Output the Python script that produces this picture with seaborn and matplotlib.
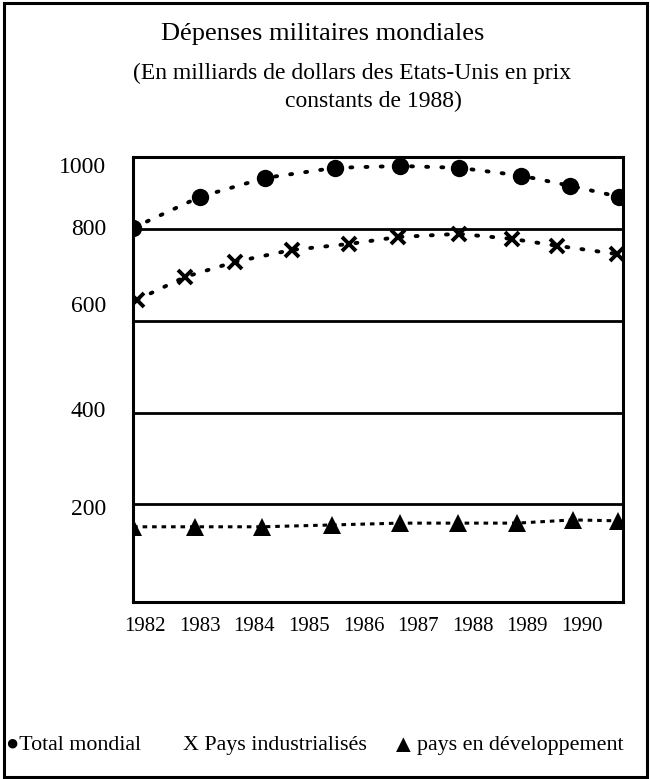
import matplotlib
matplotlib.use("Agg")
import matplotlib.pyplot as plt
import seaborn as sns
import pandas as pd
from matplotlib.patches import Rectangle

# ---- data ----
total_x = [1981.78, 1983.01, 1984.20, 1985.48, 1986.67, 1987.75, 1988.89, 1989.78, 1990.68]
total_y = [803, 871, 912, 934, 938, 934, 917, 895, 871]

indus_x = [1981.85, 1982.73, 1983.65, 1984.69, 1985.74, 1986.63, 1987.75, 1988.72, 1989.55, 1990.64]
indus_y = [646, 696, 729, 755, 768, 783, 790, 779, 764, 746]

dev_x = [1981.78, 1982.92, 1984.14, 1985.42, 1986.67, 1987.73, 1988.81, 1989.84, 1990.66]
dev_y = [151, 151, 151, 155, 159, 159, 159, 166, 164]

years = [1982, 1983, 1984, 1985, 1986, 1987, 1988, 1989, 1990]
year_labels = [str(y) for y in years]
grid_values = [200, 400, 600, 800]
# where the printed value labels sit on the value scale (as drawn in the original)
y_label_pos = [194, 408, 637, 805, 940]
y_labels = ["200", "400", "600", "800", "1000"]

title = "Dépenses militaires mondiales"
subtitle1 = "(En milliards de dollars des Etats-Unis en prix"
subtitle2 = "constants de 1988)"
legend_labels = ["●Total mondial", "X Pays industrialisés", "▲", "pays en développement"]

sns.set_theme(style="white")
plt.rcParams["font.family"] = ["Liberation Serif", "DejaVu Sans"]

fig = plt.figure(figsize=(6.5, 7.79), dpi=100)
ax = fig.add_axes([0.204, 0.2276, 0.754, 0.5705])

df_t = pd.DataFrame({"x": total_x, "y": total_y})
df_i = pd.DataFrame({"x": indus_x, "y": indus_y})
df_d = pd.DataFrame({"x": dev_x, "y": dev_y})

for v in grid_values:
    ax.axhline(v, color="black", lw=2.0, zorder=1)

sns.lineplot(data=df_t, x="x", y="y", ax=ax, color="black", lw=2.8,
             linestyle=(0, (0.5, 3.4)), marker="o", markersize=12.5,
             markeredgecolor="black", markerfacecolor="black", mew=0,
             dash_capstyle="round", zorder=3)
sns.lineplot(data=df_i, x="x", y="y", ax=ax, color="black", lw=2.8,
             linestyle=(0, (0.5, 3.4)), marker="x", markersize=9.5,
             markeredgecolor="black", mew=2.8,
             dash_capstyle="round", zorder=3)
sns.lineplot(data=df_d, x="x", y="y", ax=ax, color="black", lw=2.2,
             linestyle=(0, (1.5, 1.6)), marker="^", markersize=12.5,
             markeredgecolor="black", markerfacecolor="black", mew=0,
             zorder=3)

ax.set_xlim(1981.77, 1990.75)
ax.set_ylim(-12.4, 957)
ax.set_xlabel("")
ax.set_ylabel("")

ax.set_xticks(years)
ax.set_xticklabels(year_labels, fontsize=15)
ax.set_yticks(y_label_pos)
ax.set_yticklabels(y_labels, fontsize=17)
ax.tick_params(axis="x", length=0, pad=11, colors="black")
ax.tick_params(axis="y", length=0, pad=19, colors="black")

for s in ax.spines.values():
    s.set_color("black")
    s.set_linewidth(2.2)
    s.set_visible(True)

# titles
fig.text(0.496, 0.956, title, ha="center", va="center", fontsize=19, color="black")
fig.text(0.542, 0.906, subtitle1, ha="center", va="center", fontsize=17, color="black")
fig.text(0.574, 0.870, subtitle2, ha="center", va="center", fontsize=17, color="black")

# legend (drawn as text, as in the original)
ly = 0.043
fs = 15.8
fig.text(0.010, ly, legend_labels[0], ha="left", va="center", fontsize=fs, color="black")
fig.text(0.282, ly, legend_labels[1], ha="left", va="center", fontsize=fs, color="black")
fig.text(0.601, ly, legend_labels[2], ha="left", va="center", fontsize=18, color="black")
fig.text(0.642, ly, legend_labels[3], ha="left", va="center", fontsize=fs, color="black")

# outer frame
fig.patches.append(Rectangle((0.006, 0.003), 0.99, 0.993, transform=fig.transFigure,
                             fill=False, edgecolor="black", lw=2.2))

fig.savefig("out.png", dpi=100, facecolor="white")
